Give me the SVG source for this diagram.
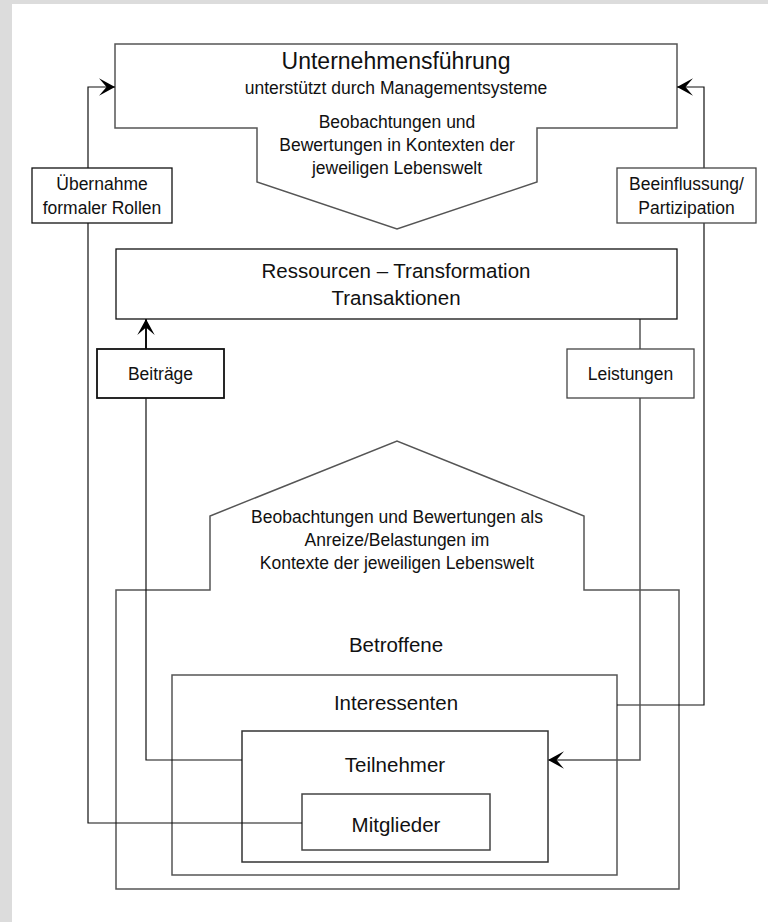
<svg xmlns="http://www.w3.org/2000/svg" width="768" height="922" viewBox="0 0 768 922">
<defs>
<style>
text{font-family:"Liberation Sans",Arial,sans-serif;fill:#111;text-anchor:middle}
.title{font-size:23px}
.body{font-size:17.5px}
.lab{font-size:20.5px}
.box{fill:#fff;stroke:#111;stroke-width:1.3}
.frame{fill:none;stroke:#555;stroke-width:1.5}
.con{fill:none;stroke:#111;stroke-width:1.2}
</style>
<marker id="arr" viewBox="-17 -10 18 20" refX="0" refY="0" markerWidth="18" markerHeight="20" markerUnits="userSpaceOnUse" orient="auto">
<path d="M0,0 L-16,-8.7 L-8.5,0 L-16,8.7 Z" fill="#000"/>
</marker>
</defs>
<rect x="0" y="0" width="768" height="922" fill="#dcdcdc"/>
<rect x="12" y="4" width="756" height="918" fill="#fff"/>

<g id="unternehmensfuehrung">
<path class="frame" d="M115,44 H677 V128 H537 V182 L397,229 L257,182 V128 H115 Z"/>
<text class="title" x="396" y="69">Unternehmensführung</text>
<text class="body" x="396" y="94">unterstützt durch Managementsysteme</text>
<text class="body" x="397" y="128">Beobachtungen und</text>
<text class="body" x="397" y="151">Bewertungen in Kontexten der</text>
<text class="body" x="397" y="174">jeweiligen Lebenswelt</text>
</g>

<g id="betroffene">
<path class="frame" d="M116,889 V590 H210 V516 L397,441 L584,516 V590 H679 V889 Z"/>
<text class="body" x="397" y="523">Beobachtungen und Bewertungen als</text>
<text class="body" x="397" y="546">Anreize/Belastungen im</text>
<text class="body" x="397" y="569">Kontexte der jeweiligen Lebenswelt</text>
<text class="lab" x="396" y="652">Betroffene</text>
</g>

<g id="interessenten">
<rect class="frame" x="172" y="675" width="445" height="200"/>
<text class="lab" x="396" y="710">Interessenten</text>
</g>

<g id="teilnehmer">
<rect class="frame" x="242" y="731" width="306" height="131" style="stroke:#333"/>
<text class="lab" x="395" y="772">Teilnehmer</text>
</g>

<g id="mitglieder">
<rect class="frame" x="302" y="794" width="188" height="56" style="stroke:#444"/>
<text class="lab" x="396" y="832">Mitglieder</text>
</g>

<g id="connectors">
<path class="con" d="M302,823 H88 V87 H115" marker-end="url(#arr)"/>
<path class="con" d="M617,705 H704 V87 H677" marker-end="url(#arr)"/>
<path class="con" d="M242,760 H146 V349"/>
<path class="con" d="M146,349 V319" style="stroke-width:2" marker-end="url(#arr)"/>
<path class="con" d="M640,319 V760 H548" style="stroke:#555;stroke-width:1.5" marker-end="url(#arr)"/>
</g>

<g id="ressourcen">
<rect class="box" x="116" y="249" width="561" height="70"/>
<text class="lab" x="396" y="278">Ressourcen – Transformation</text>
<text class="lab" x="396" y="305">Transaktionen</text>
</g>

<g id="uebernahme">
<rect class="box" x="32" y="168" width="140" height="55"/>
<text class="body" x="102" y="190">Übernahme</text>
<text class="body" x="102" y="214">formaler Rollen</text>
</g>

<g id="beeinflussung">
<rect class="box" x="617" y="168" width="139" height="55" style="stroke:#444"/>
<text class="body" x="686.5" y="190">Beeinflussung/</text>
<text class="body" x="686.5" y="214">Partizipation</text>
</g>

<g id="beitraege">
<rect class="box" x="97" y="349" width="127" height="49" style="stroke-width:1.8"/>
<text class="body" x="160.5" y="380">Beiträge</text>
</g>

<g id="leistungen">
<rect class="box" x="567" y="349" width="127" height="49" style="stroke:#444"/>
<text class="body" x="630.5" y="380">Leistungen</text>
</g>
</svg>
